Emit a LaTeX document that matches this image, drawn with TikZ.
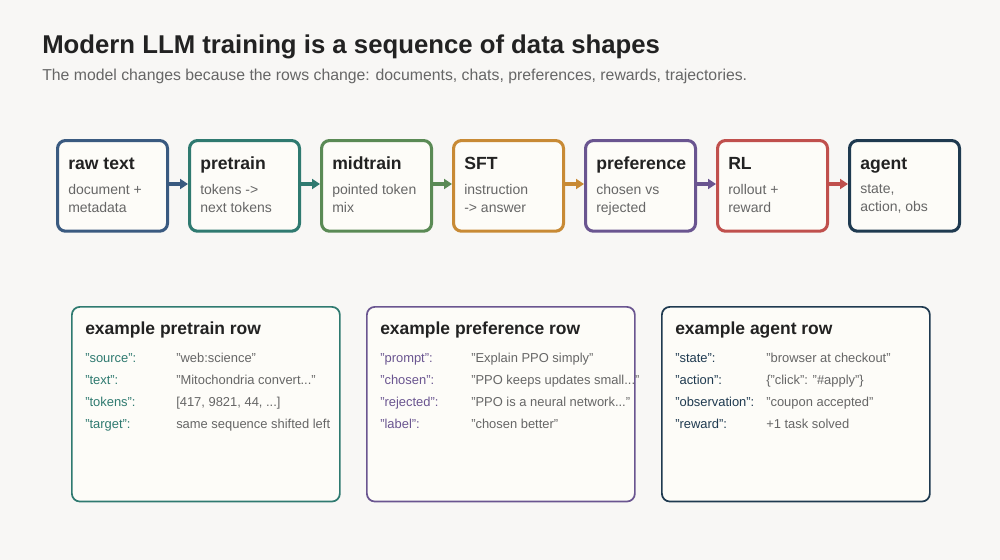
\documentclass[tikz,border=0pt]{standalone}
\usepackage{fontspec}
\setmainfont{Liberation Sans}
\usetikzlibrary{arrows.meta}
\newcommand{\tdots}{...}
\definecolor{bg}{HTML}{F8F7F5}
\definecolor{boxfill}{HTML}{FDFCF8}
\definecolor{cA}{HTML}{3A5A80}
\definecolor{cB}{HTML}{2F7A70}
\definecolor{cC}{HTML}{5A8A55}
\definecolor{cD}{HTML}{C88A35}
\definecolor{cE}{HTML}{6A5590}
\definecolor{cF}{HTML}{C0504D}
\definecolor{cG}{HTML}{1F3A50}
\definecolor{ink}{HTML}{222222}
\definecolor{sub}{HTML}{666666}
\tikzset{
 stagebox/.style={draw=#1, line width=2.3pt, fill=boxfill, rounded corners=6pt, minimum width=82.5pt, minimum height=68pt, anchor=north west},
 rowbox/.style={draw=#1, line width=1.3pt, fill=boxfill, rounded corners=6pt, minimum width=201pt, minimum height=146pt, anchor=north west},
 stitle/.style={anchor=base west, font=\fontsize{13.2}{15}\selectfont\bfseries, text=ink, inner sep=0pt},
 sdesc/.style={anchor=north west, font=\fontsize{10.5}{13.5}\selectfont, text=sub, align=left, inner sep=0pt},
 rtitle/.style={anchor=base west, font=\fontsize{13.1}{15}\selectfont\bfseries, text=ink, inner sep=0pt},
 rkey/.style={anchor=base west, font=\fontsize{9.7}{11}\selectfont, text=#1, inner sep=0pt},
 rval/.style={anchor=base west, font=\fontsize{9.7}{11}\selectfont, text=sub, inner sep=0pt},
 flow/.style={draw=#1, line width=2.6pt, -{Triangle[length=6pt,width=7.5pt]}, fill=#1},
}
\begin{document}
\begin{tikzpicture}[x=0.75pt,y=-0.75pt]
\fill[bg] (0,0) rectangle (1000,560);
\useasboundingbox (0,0) rectangle (1000,560);
\node[anchor=base west, font=\fontsize{19.3}{22}\selectfont\bfseries, text=ink, inner sep=0pt] (title) at (42,54) {Modern LLM training is a sequence of data shapes};
\node[anchor=base west, font=\fontsize{11.85}{14}\selectfont, text=sub, inner sep=0pt] (subt) at (42,80) {The model changes because the rows change: documents, chats, preferences, rewards, trajectories.};
\foreach \i/\c/\t/\d in {0/cA/raw text/{document +\\metadata},1/cB/pretrain/{tokens ->\\next tokens},2/cC/midtrain/{pointed token\\mix},3/cD/SFT/{instruction\\-> answer},4/cE/preference/{chosen vs\\rejected},5/cF/RL/{rollout +\\reward},6/cG/agent/{state,\\action, obs}}{
 \node[stagebox=\c] (s\i) at ({56+132*\i},139) {};
 \node[stitle] (st\i) at ({68+132*\i},169) {\t};
 \node[sdesc] (sd\i) at ({68+132*\i},184) {\d};
}
\foreach \i/\c in {0/cA,1/cB,2/cC,3/cD,4/cE,5/cF}{
 \pgfmathtruncatemacro\j{\i+1}
 \draw[flow=\c] (s\i.east |- 0,184) -- (s\j.west |- 0,184);
}
% row boxes
\node[rowbox=cB] (r1) at (71,306) {};
\node[rowbox=cE] (r2) at (366,306) {};
\node[rowbox=cG] (r3) at (661,306) {};
\node[rtitle] (rt1) at (85,334) {example pretrain row};
\node[rtitle] (rt2) at (380,334) {example preference row};
\node[rtitle] (rt3) at (675,334) {example agent row};
\foreach \k/\v [count=\n from 0] in {"source":/"web:science", "text":/"Mitochondria convert\tdots", "tokens":/{[417, 9821, 44, \tdots]}, "target":/same sequence shifted left}{
 \node[rkey=cB] (k1\n) at (85,{362+22.3*\n}) {\k};
 \node[rval] (v1\n) at (176,{362+22.3*\n}) {\v};
}
\foreach \k/\v [count=\n from 0] in {"prompt":/"Explain PPO simply", "chosen":/"PPO keeps updates small\tdots", "rejected":/"PPO is a neural network\tdots", "label":/"chosen better"}{
 \node[rkey=cE] (k2\n) at (380,{362+22.3*\n}) {\k};
 \node[rval] (v2\n) at (471,{362+22.3*\n}) {\v};
}
\foreach \k/\v [count=\n from 0] in {"state":/"browser at checkout", "action":/{\{"click": "\#apply"\}}, "observation":/"coupon accepted", "reward":/+1 task solved}{
 \node[rkey=cG] (k3\n) at (675,{362+22.3*\n}) {\k};
 \node[rval] (v3\n) at (766,{362+22.3*\n}) {\v};
}
\end{tikzpicture}
\end{document}
